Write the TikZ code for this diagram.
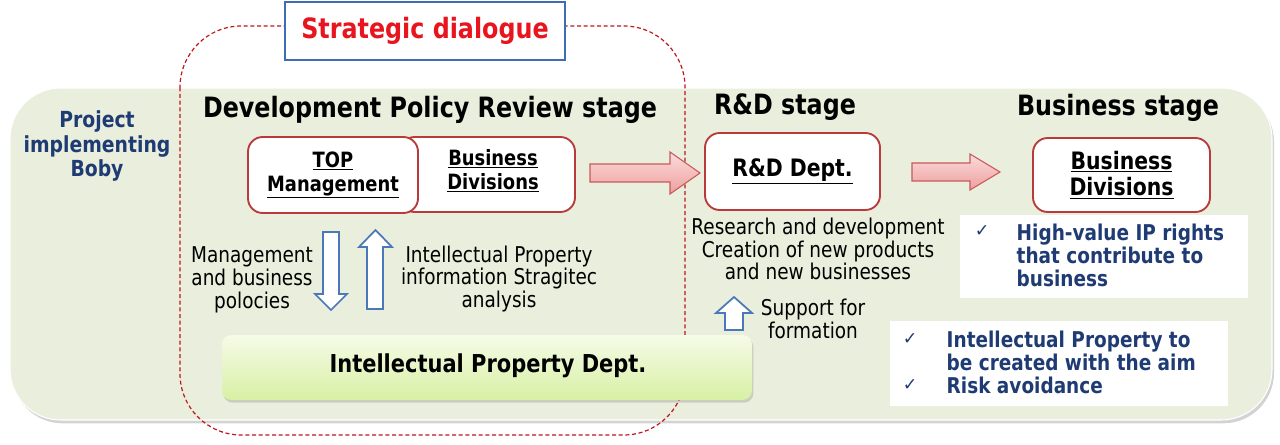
\documentclass[tikz,border=0pt]{standalone}
\usepackage{fontspec}
\setmainfont{DejaVu Sans}[FakeStretch=0.85]
\newfontfamily\symfont{DejaVu Sans}
\usetikzlibrary{shadows}
\definecolor{panelbg}{HTML}{EAEEDD}
\definecolor{dashred}{HTML}{C0141E}
\definecolor{boxred}{HTML}{B83A3A}
\definecolor{navy}{HTML}{1F3B73}
\definecolor{stratblue}{HTML}{3F6DB5}
\definecolor{strred}{HTML}{E8141E}
\definecolor{arrblue}{HTML}{4A78B8}
\definecolor{pinktop}{HTML}{FBDCDC}
\definecolor{pinkbot}{HTML}{EE9E9E}
\definecolor{pinkline}{HTML}{C85A5A}
\definecolor{iptop}{HTML}{F5FBE8}
\definecolor{ipbot}{HTML}{D8F0A4}
\newcommand\fsz[2]{\fontsize{#1}{#2}\selectfont}
\begin{document}
\begin{tikzpicture}[x=0.75pt,y=-0.75pt,
  panel/.style={fill=panelbg, draw=white, line width=0.8pt, rounded corners=38pt,
    minimum width=1262*0.75pt, minimum height=332*0.75pt,
    drop shadow={opacity=0.35, shadow xshift=1.5pt, shadow yshift=-2.5pt}},
  dlg/.style={draw=dashred, line width=0.9pt, dash pattern=on 3pt off 2pt, rounded corners=46pt},
  stratbox/.style={draw=stratblue, line width=1.9pt, fill=white, minimum width=280*0.75pt, minimum height=58*0.75pt},
  orgbox/.style={draw=boxred, line width=1.4pt, fill=white, rounded corners=11pt, align=center, font=\bfseries},
  pinkarrow/.style={draw=pinkline, line width=0.8pt, top color=pinktop, bottom color=pinkbot},
  hollow/.style={draw=arrblue, line width=1.3pt, fill=white},
  ipbox/.style={rounded corners=7pt, top color=iptop, bottom color=ipbot, draw=none,
    minimum width=530*0.75pt, minimum height=65*0.75pt,
    drop shadow={opacity=0.3, shadow xshift=1pt, shadow yshift=-2pt}},
  whitebox/.style={fill=white, draw=none},
  stagehead/.style={font=\fsz{21}{25}\bfseries},
  plain/.style={align=center, font=\fsz{16.3}{16.8}},
  bluelist/.style={align=left, text=navy, font=\fsz{16.3}{17.3}\bfseries},
  check/.style={text=navy, font=\symfont\fsz{13}{15}}
]
\useasboundingbox (0,0) rectangle (1280,445);

% main panel
\node[panel] (panel) at (641,254) {};

% strategic dialogue dashed frame
\draw[dlg] (180,26) rectangle (685,435);
\node[stratbox] (strat) at (425,31) {\fsz{21}{25}\bfseries\color{strred}Strategic dialogue};

% left label
\node[align=center, text=navy, font=\fsz{16.6}{18.4}\bfseries] (proj) at (97,146)
  {Project\\implementing\\Boby};

% stage headings
\node[stagehead] (h1) at (430,110) {Development Policy Review stage};
\node[stagehead] (h2) at (785,107) {R\&D stage};
\node[stagehead] (h3) at (1118,108) {Business stage};

% organisation boxes
\node[orgbox, minimum width=175*0.75pt, minimum height=75*0.75pt] (bd1) at (487.5,174.5) {};
\node[orgbox, minimum width=170*0.75pt, minimum height=76*0.75pt, font=\fsz{15.8}{18}\bfseries] (top) at (333,175)
  {\underline{TOP}\\\underline{Management}};
\node[align=center, font=\fsz{15.8}{18}\bfseries] (bd1t) at (493,171) {\underline{Business}\\\underline{Divisions}};
\node[orgbox, minimum width=175*0.75pt, minimum height=77*0.75pt, font=\fsz{18}{20}\bfseries] (rd) at (792.5,171.5)
  {\underline{R\&D Dept.}};
\node[orgbox, minimum width=177*0.75pt, minimum height=74*0.75pt, font=\fsz{18}{20}\bfseries] (bd2) at (1121.5,175)
  {\underline{Business}\\\underline{Divisions}};

% pink block arrows
\draw[pinkarrow] (590,164) -- (670,164) -- (670,152) -- (700,173) -- (670,194) -- (670,182) -- (590,182) -- cycle;
\draw[pinkarrow] (912,163) -- (970,163) -- (970,154) -- (1000,172) -- (970,190) -- (970,181) -- (912,181) -- cycle;

% hollow arrows
\draw[hollow] (323,232) -- (339,232) -- (339,294) -- (347,294) -- (331,310) -- (315,294) -- (323,294) -- cycle;
\draw[hollow] (367,309) -- (383,309) -- (383,247) -- (392,247) -- (375.5,230) -- (359,247) -- (367,247) -- cycle;
\draw[hollow] (725,330) -- (743,330) -- (743,313) -- (752,313) -- (734,297) -- (716,313) -- (725,313) -- cycle;

% explanatory texts
\node[plain, font=\fsz{16.3}{17}] (mgmt) at (252,280) {Management\\and business\\polocies};
\node[plain, font=\fsz{16.3}{17}] (ipinfo) at (499,279) {Intellectual Property\\information Stragitec\\analysis};
\node[plain] (rdtext) at (818,249) {Research and development\\Creation of new products\\and new businesses};
\node[plain] (support) at (813,319) {Support for\\formation};

% IP department
\node[ipbox] (ip) at (487,367.5) {};
\node[font=\fsz{18.5}{22}\bfseries] (ipt) at (488,366) {Intellectual Property Dept.};

% white lists
\fill[whitebox] (960,215) rectangle (1248,298);
\node[check] (c1) at (982,231) {✓};
\node[bluelist, anchor=west] (l1) at (1012,255) {High-value IP rights\\that contribute to\\business};

\fill[whitebox] (890,321) rectangle (1228,406);
\node[check] (c2) at (910,339) {✓};
\node[check] (c3) at (910,385) {✓};
\node[bluelist, anchor=west] (l2) at (942,362) {Intellectual Property to\\be created with the aim\\Risk avoidance};
\end{tikzpicture}
\end{document}
